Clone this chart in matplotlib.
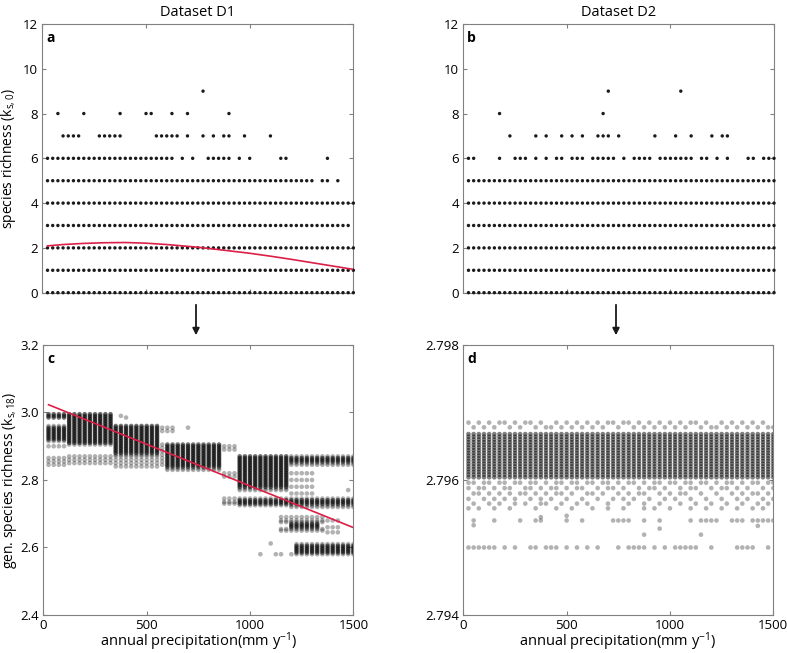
import numpy as np
import matplotlib
matplotlib.use('Agg')
import matplotlib.pyplot as plt

plt.rcParams['font.family'] = ['Open Sans', 'DejaVu Sans']
plt.rcParams['mathtext.default'] = 'regular'
plt.rcParams['font.size'] = 9

# --- panel a (Dataset D1, species richness) ---
# full rows: level -> (first x, last x) on the 25 mm precipitation grid
a_rows = {0: (25, 1500), 1: (25, 1500), 2: (25, 1500), 3: (25, 1475),
          4: (25, 1500), 5: (25, 1300), 6: (25, 625)}
a_extra = {
    5: [1350, 1375, 1425],
    6: [675, 725, 800, 825, 850, 875, 900, 950, 1000, 1150, 1175, 1375],
    7: [100, 125, 150, 175, 275, 300, 325, 350, 375, 550, 575, 600, 625, 650,
        700, 775, 825, 875, 900, 975, 1100],
    8: [75, 200, 375, 500, 525, 625, 700, 900],
    9: [775],
}
a_fit_x = [25, 100, 200, 300, 400, 500, 600, 750, 900, 1000, 1100, 1200, 1300, 1400, 1500]
a_fit_y = [2.09, 2.15, 2.20, 2.23, 2.24, 2.21, 2.15, 2.03, 1.87, 1.76, 1.63, 1.49, 1.34, 1.19, 1.04]

# --- panel b (Dataset D2, species richness) ---
b_rows = {0: (25, 1500), 1: (25, 1500), 2: (25, 1500), 3: (25, 1500),
          4: (25, 1500), 5: (25, 1500)}
b_extra = {
    6: [25, 50, 175, 250, 275, 300, 350, 400, 450, 475, 525, 550, 575, 625, 650,
        675, 700, 725, 775, 825, 850, 875, 900, 950, 975, 1000, 1025, 1050, 1075,
        1100, 1150, 1175, 1225, 1275, 1375, 1400, 1450, 1475, 1500],
    7: [225, 350, 400, 475, 525, 575, 650, 675, 700, 750, 925, 1025, 1100, 1200,
        1250, 1275],
    8: [175, 675],
    9: [700, 1050],
}

# --- panel c (Dataset D1, generalised richness) ---
# blocks: (first x, last x, y levels present in every column of the block)
c_dense = [
    (25, 100, [2.995, 2.99, 2.985, 2.955, 2.95, 2.945, 2.94, 2.935, 2.93,
               2.925, 2.92]),
    (125, 325, [2.995, 2.99, 2.985, 2.98, 2.975, 2.97, 2.965, 2.96, 2.955, 2.95,
                2.945, 2.94, 2.935, 2.93, 2.925, 2.92, 2.915, 2.91]),
    (350, 550, [2.96, 2.955, 2.95, 2.945, 2.94, 2.935, 2.93, 2.925, 2.92, 2.915,
                2.91, 2.905, 2.90, 2.895, 2.89, 2.885, 2.88]),
    (600, 850, [2.905, 2.90, 2.895, 2.89, 2.885, 2.88, 2.875, 2.87, 2.865, 2.86,
                2.855, 2.85, 2.845, 2.84]),
    (950, 1175, [2.87, 2.865, 2.86, 2.855, 2.85, 2.845, 2.84, 2.835, 2.83, 2.825,
                 2.82, 2.815, 2.81, 2.805, 2.80, 2.795, 2.79, 2.785, 2.78]),
    (950, 1500, [2.74, 2.735, 2.73]),
    (1200, 1500, [2.865, 2.86, 2.855]),
    (1200, 1325, [2.67, 2.665, 2.66]),
    (1225, 1500, [2.605, 2.60, 2.595, 2.59, 2.585]),
]
c_light = [
    (25, 100, [2.96, 2.915, 2.90, 2.865, 2.855, 2.845]),
    (125, 325, [2.905, 2.87, 2.86, 2.85]),
    (350, 550, [2.875, 2.87, 2.86, 2.85, 2.84]),
    (575, 625, [2.955, 2.945]),
    (575, 575, [2.905, 2.895, 2.885, 2.875, 2.865, 2.855, 2.845]),
    (600, 850, [2.835, 2.83]),
    (875, 925, [2.90, 2.89, 2.82, 2.81, 2.745, 2.735, 2.73]),
    (950, 1175, [2.775, 2.77, 2.745, 2.725]),
    (1200, 1500, [2.87, 2.85, 2.845, 2.745, 2.725, 2.72]),
    (1200, 1300, [2.82, 2.80, 2.78, 2.76]),
    (1150, 1350, [2.69, 2.68, 2.675, 2.655, 2.65]),
    (1375, 1425, [2.68, 2.66, 2.645]),
    (1225, 1500, [2.61, 2.58]),
]
c_out_x = [375, 400, 700, 1050, 1100, 1125, 1150, 1200, 1475]
c_out_y = [2.99, 2.985, 2.955, 2.58, 2.612, 2.58, 2.58, 2.58, 2.77]
c_fit_x = [25, 1500]
c_fit_y = [3.023, 2.659]

# --- panel d (Dataset D2, generalised richness) ---
d_core = [2.79668, 2.79664, 2.79660, 2.79656, 2.79652, 2.79648, 2.79644, 2.79640,
          2.79636, 2.79632, 2.79628, 2.79624, 2.79620, 2.79616, 2.79612, 2.79608,
          2.79604]
d_rows = {
    2.79685: [25, 75, 125, 175, 200, 250, 300, 325, 375, 450, 500, 550, 600, 650,
              700, 725, 775, 800, 850, 900, 950, 1000, 1050, 1100, 1125, 1175, 1250,
              1300, 1350, 1400, 1450],
    2.79678: [50, 100, 150, 225, 275, 350, 400, 425, 475, 525, 575, 625, 675, 750,
              825, 875, 925, 975, 1025, 1075, 1150, 1200, 1225, 1275, 1325, 1375,
              1425, 1475, 1500],
    2.79596: [25, 50, 100, 125, 175, 200, 250, 275, 325, 350, 400, 450, 475, 525,
              550, 600, 625, 675, 700, 750, 800, 825, 875, 925, 950, 1000, 1025,
              1075, 1100, 1150, 1175, 1225, 1275, 1300, 1350, 1400, 1425, 1475, 1500],
    2.79588: [25, 75, 100, 150, 200, 225, 300, 325, 375, 425, 450, 500, 550, 575,
              650, 700, 725, 775, 850, 900, 925, 975, 1050, 1100, 1125, 1200, 1250,
              1275, 1325, 1375, 1450, 1500],
    2.79580: [50, 75, 125, 175, 225, 275, 300, 350, 400, 450, 475, 525, 600, 625,
              675, 750, 800, 850, 875, 950, 1000, 1050, 1075, 1150, 1225, 1300, 1350,
              1400, 1425, 1475],
    2.79572: [25, 100, 150, 200, 250, 325, 375, 425, 500, 575, 650, 725, 775, 825,
              900, 975, 1025, 1100, 1175, 1250, 1325, 1375, 1450, 1500],
    2.79565: [50, 125, 175, 250, 300, 375, 400, 475, 550, 600, 700, 800, 875, 950,
              1050, 1125, 1200, 1275, 1350, 1425, 1475],
    2.79558: [25, 75, 150, 225, 350, 450, 525, 625, 700, 775, 875, 925, 1000, 1100,
              1175, 1250, 1325, 1400, 1450],
    2.79540: [50, 150, 275, 350, 375, 500, 575, 725, 750, 775, 800, 875, 950, 1100,
              1150, 1175, 1200, 1225, 1300, 1325, 1350, 1400, 1425, 1450, 1475, 1500],
    2.79500: [25, 50, 75, 100, 125, 150, 200, 250, 325, 350, 400, 425, 450, 500,
              550, 600, 650, 750, 800, 825, 850, 875, 925, 975, 1025, 1050, 1075,
              1100, 1125, 1200, 1325, 1350, 1375, 1400, 1475],
}
d_out_x = [50, 375, 500, 875, 950, 1150, 1425]
d_out_y = [2.79533, 2.79545, 2.79547, 2.79519, 2.79528, 2.79519, 2.79532]

red = '#dc1f47'
spine_col = '#808080'


def grid(x0, x1):
    return list(range(x0, x1 + 1, 25))


def rows_to_points(rows, extra):
    xs, ys = [], []
    for lvl, (x0, x1) in rows.items():
        g = grid(x0, x1)
        xs += g
        ys += [lvl] * len(g)
    for lvl, lst in extra.items():
        xs += lst
        ys += [lvl] * len(lst)
    return xs, ys


def blocks_to_points(blocks):
    xs, ys = [], []
    for x0, x1, levels in blocks:
        for x in grid(x0, x1):
            xs += [x] * len(levels)
            ys += levels
    return xs, ys


def style(ax, label):
    for s in ax.spines.values():
        s.set_color(spine_col)
        s.set_linewidth(0.8)
    ax.tick_params(direction='in', top=True, right=True, length=3,
                   color=spine_col, labelsize=9.5, pad=3)
    ax.set_xlim(0, 1500)
    ax.set_xticks([0, 500, 1000, 1500])
    ax.text(0.012, 0.975, label, transform=ax.transAxes, fontweight='bold',
            fontsize=10, va='top', ha='left')
    ax.yaxis.set_label_coords(-0.078, 0.5)
    ax.xaxis.set_label_coords(0.5, -0.058)


fig = plt.figure(figsize=(7.87, 6.53), dpi=100)
ax_a = fig.add_axes([0.0538, 0.5518, 0.3952, 0.4115])
ax_b = fig.add_axes([0.5887, 0.5518, 0.3948, 0.4115])
ax_c = fig.add_axes([0.0551, 0.0582, 0.3939, 0.4135])
ax_d = fig.add_axes([0.5887, 0.0582, 0.3939, 0.4135])

# a
xs, ys = rows_to_points(a_rows, a_extra)
ax_a.scatter(xs, ys, s=6, color='#1a1a1a', edgecolors='none', clip_on=False, zorder=3)
ax_a.plot(a_fit_x, a_fit_y, color=red, lw=1.2, zorder=4)
ax_a.set_ylim(0, 12)
ax_a.set_yticks(range(0, 13, 2))
ax_a.set_xticklabels([])
ax_a.set_ylabel('species richness (k$_{s,0}$)', fontsize=10)
ax_a.set_title('Dataset D1', fontsize=10.5, pad=6)
style(ax_a, 'a')

# b
xs, ys = rows_to_points(b_rows, b_extra)
ax_b.scatter(xs, ys, s=6, color='#1a1a1a', edgecolors='none', clip_on=False, zorder=3)
ax_b.set_ylim(0, 12)
ax_b.set_yticks(range(0, 13, 2))
ax_b.set_xticklabels([])
ax_b.set_title('Dataset D2', fontsize=10.5, pad=6)
style(ax_b, 'b')

# c
xs, ys = blocks_to_points(c_dense)
ax_c.scatter(xs, ys, s=11, color='k', alpha=0.55, edgecolors='none', zorder=3)
xs, ys = blocks_to_points(c_light)
xs += c_out_x
ys += c_out_y
ax_c.scatter(xs, ys, s=11, color='k', alpha=0.3, edgecolors='none', zorder=3)
ax_c.plot(c_fit_x, c_fit_y, color=red, lw=1.2, zorder=4)
ax_c.set_ylim(2.4, 3.2)
ax_c.set_yticks([2.4, 2.6, 2.8, 3.0, 3.2])
ax_c.set_yticklabels(['2.4', '2.6', '2.8', '3.0', '3.2'])
ax_c.set_ylabel('gen. species richness (k$_{s,18}$)', fontsize=10)
ax_c.set_xlabel('annual precipitation(mm y$^{-1}$)', fontsize=10.5)
style(ax_c, 'c')

# d
xs, ys = [], []
for x in grid(25, 1500):
    xs += [x] * len(d_core)
    ys += d_core
ax_d.scatter(xs, ys, s=11, color='k', alpha=0.5, edgecolors='none', zorder=3)
xs, ys = [], []
for lvl, lst in d_rows.items():
    xs += lst
    ys += [lvl] * len(lst)
xs += d_out_x
ys += d_out_y
ax_d.scatter(xs, ys, s=11, color='k', alpha=0.3, edgecolors='none', zorder=3)
ax_d.set_ylim(2.794, 2.798)
ax_d.set_yticks([2.794, 2.796, 2.798])
ax_d.set_yticklabels(['2.794', '2.796', '2.798'])
ax_d.set_xlabel('annual precipitation(mm y$^{-1}$)', fontsize=10.5)
style(ax_d, 'd')

# arrows between rows
for xpix in (196, 616):
    xf = xpix / 787
    fig.add_artist(matplotlib.patches.FancyArrowPatch(
        (xf, 1 - 302 / 653), (xf, 1 - 338 / 653), transform=fig.transFigure,
        arrowstyle='-|>', mutation_scale=10, color='#1a1a1a', lw=1.3))

fig.savefig('out.png', dpi=100)
